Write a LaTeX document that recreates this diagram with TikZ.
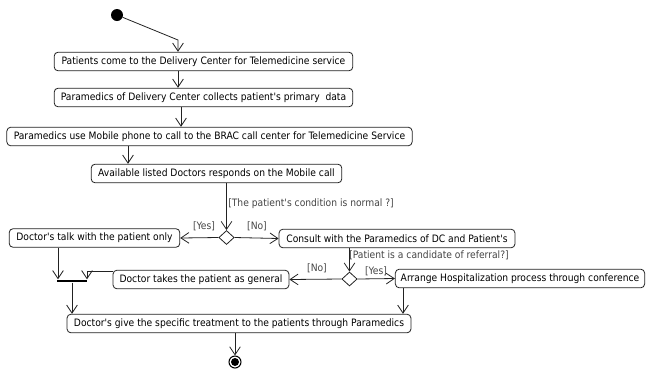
\documentclass[tikz,border=0pt]{standalone}
\usepackage{fontspec}
\setmainfont{DejaVu Sans Condensed}[Ligatures=TeXOff]
\usetikzlibrary{arrows.meta, shapes.geometric}

\begin{document}
\begin{tikzpicture}[x=0.75pt, y=-0.75pt, font=\fontsize{7.65}{9}\selectfont,
    action/.style={draw=borderColour, line width=0.6pt, rounded corners=3pt,
        minimum height=14pt, inner xsep=0pt, inner ysep=0pt},
    choice/.style={draw=borderColour, line width=0.6pt, diamond, inner sep=0pt,
        minimum width=11.5pt, minimum height=10.5pt, fill=white},
    flow/.style={line width=0.6pt, draw=borderColour,
        -{Straight Barb[length=6pt, width=8pt, line width=0.6pt]}},
    guard/.style={text=guardColour, inner sep=0pt}]

    \definecolor{borderColour}{HTML}{222222}
    \definecolor{guardColour}{HTML}{444444}

    % Fix the page size
    \useasboundingbox (0,0) rectangle (646,369);

    % Start and final states
    \node[circle, fill=black, minimum size=9pt, inner sep=0pt] (start) at (117,15) {};
    \node[circle, draw=black, line width=0.8pt, minimum size=9pt, inner sep=0pt] (finish) at (235,362) {};
    \fill (finish) circle (3pt);

    % Actions
    \node[action, minimum width=224pt] (patients) at (203.5,61.5)
        {Patients come to the Delivery Center for Telemedicine service};
    \node[action, minimum width=224pt] (collect) at (203.5,97.5)
        {Paramedics of Delivery Center collects patient's primary\ \ data};
    \node[action, minimum width=304pt] (mobilecall) at (209.5,136.5)
        {Paramedics use Mobile phone to call to the BRAC call center for Telemedicine Service};
    \node[action, minimum width=188pt] (responds) at (216.5,173.5)
        {Available listed Doctors responds on the Mobile call};
    \node[action, minimum width=128pt] (talk) at (94.5,238)
        {Doctor's talk with the patient only};
    \node[action, minimum width=177pt] (consult) at (397,238.5)
        {Consult with the Paramedics of DC and Patient's};
    \node[action, minimum width=132pt] (general) at (201,279.5)
        {Doctor takes the patient as general};
    \node[action, minimum width=187pt] (hospital) at (520,278.5)
        {Arrange Hospitalization process through conference};
    \node[action, minimum width=258pt] (treatment) at (239,323.5)
        {Doctor's give the specific treatment to the patients through Paramedics};

    % Decisions and join bar
    \node[choice] (normal) at (226.5,237.5) {};
    \node[choice] (referral) at (349.5,279) {};
    \node[fill=black, minimum width=22.5pt, minimum height=2.2pt, inner sep=0pt] (join) at (72,281) {};

    % Bend points of the connectors
    \coordinate (entry) at (178,40);
    \coordinate (c2) at (181,0);
    \coordinate (c3) at (128,0);
    \coordinate (talkOut) at (58,0);
    \coordinate (generalOut) at (87,271);
    \coordinate (hospitalOut) at (403,0);
    \coordinate (treatOut) at (235,0);

    % Draw the flow
    \draw[flow] (start) -- (entry) -- (patients.north -| entry);
    \draw[flow] (patients.south -| entry) -- (collect.north -| entry);
    \draw[flow] (collect.south -| c2) -- (mobilecall.north -| c2);
    \draw[flow] (mobilecall.south -| c3) -- (responds.north -| c3);
    \draw[flow] (normal.north |- responds.south) -- (normal.north);
    \draw[flow] (normal.west) -- (talk.east);
    \draw[flow] (normal.east) -- (consult.west);
    \draw[flow] (referral.north |- consult.south) -- (referral.north);
    \draw[flow] (referral.west) -- (general.east);
    \draw[flow] (referral.east) -- (hospital.west);
    \draw[flow] (talk.south -| talkOut) -- (join.north -| talkOut);
    \draw[flow] (general.west |- generalOut) -- (generalOut) -- (join.north -| generalOut);
    \draw[flow] (join.south) -- (join.south |- treatment.north);
    \draw[flow] (hospital.south -| hospitalOut) -- (treatment.north -| hospitalOut);
    \draw[flow] (treatment.south -| treatOut) -- (finish.north);

    % Guard labels
    \node[guard, anchor=west] (gNormal) at (228,204) {[The patient's condition is normal ?]};
    \node[guard] (gYes1) at (204,226) {[Yes]};
    \node[guard] (gNo1) at (257,226) {[No]};
    \node[guard, anchor=west] (gReferral) at (349,255) {[Patient is a candidate of referral?]};
    \node[guard] (gNo2) at (317,268) {[No]};
    \node[guard] (gYes2) at (376,271) {[Yes]};

\end{tikzpicture}
\end{document}
